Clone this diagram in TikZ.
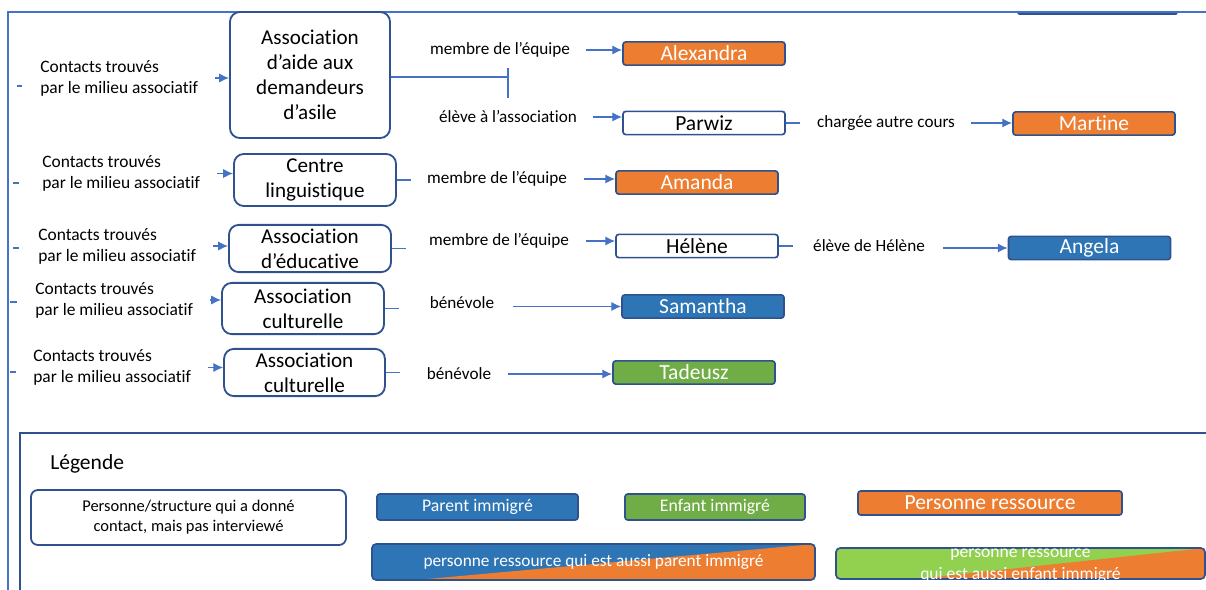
\documentclass[tikz,border=0pt]{standalone}
\usepackage{fontspec}
\setmainfont{Carlito}[Ligatures=NoCommon]
\usetikzlibrary{arrows,arrows.meta,shapes,positioning}
\definecolor{lienbleu}{HTML}{4472C4}
\definecolor{bordbleu}{HTML}{2F528F}
\definecolor{orangeres}{HTML}{ED7D31}
\definecolor{bleuparent}{HTML}{2E75B6}
\definecolor{vertenfant}{HTML}{70AD47}
\definecolor{vertclair}{HTML}{92D050}
\tikzset{
  struct/.style={draw=bordbleu, line width=1.3pt, fill=white, rounded corners=7pt,
    align=center, inner sep=0pt, font=\fontsize{15}{17.8}\selectfont},
  pers/.style={draw=bordbleu, line width=1.2pt, rounded corners=2pt, inner sep=0pt,
    minimum width=4.05cm, minimum height=0.58cm, text=white, font=\fontsize{15.3}{16}\selectfont},
  contact/.style={anchor=west, align=left, inner sep=0pt, font=\fontsize{12.4}{14.9}\selectfont},
  texte/.style={align=center, inner sep=0pt, font=\fontsize{12.2}{14.6}\selectfont},
  lien/.style={draw=lienbleu, line width=0.9pt},
  fleche/.style={lien, ->},
  cadre/.style={draw=lienbleu, line width=1.4pt},
  duo/.style 2 args={draw=bordbleu, line width=1.2pt, rounded corners=3pt, inner sep=0pt, fill=#1,
    path picture={\fill[orangeres] ([xshift=#2]path picture bounding box.south west)
      -- (path picture bounding box.north east) -- (path picture bounding box.south east) -- cycle;}}
}
\begin{document}
\begin{tikzpicture}[x=0.025cm,y=-0.025cm,>={Latex[length=7pt,width=6.5pt]}]
 	\useasboundingbox (0,0) rectangle (1206,590);
 	\draw[bordbleu, line width=2.2pt, line cap=round] (1019,13.5) -- (1176,13.5);
 	\draw[cadre] (8,590) -- (8,12) -- (1206,12);
 	% structures
 	\node[struct, minimum width=4cm, minimum height=3.15cm] (a1) at (310,75) {Association\\d'aide aux\\demandeurs\\d'asile};
 	\node[struct, minimum width=4.05cm, minimum height=1.3cm] (a2) at (315,180) {Centre\\linguistique};
 	\node[struct, minimum width=4.05cm, minimum height=1.18cm] (a3) at (310,248.5) {Association\\d'éducative};
 	\node[struct, minimum width=4.05cm, minimum height=1.28cm] (a4) at (303,308.5) {Association\\culturelle};
 	\node[struct, minimum width=4.02cm, minimum height=1.18cm] (a5) at (304.5,372.5) {Association\\culturelle};
 	% contacts
 	\node[contact] (c1) at (40,78) {Contacts trouvés\\par le milieu associatif};
 	\node[contact] (c2) at (42,173.5) {Contacts trouvés\\par le milieu associatif};
 	\node[contact] (c3) at (38,246) {Contacts trouvés\\par le milieu associatif};
 	\node[contact] (c4) at (35,300) {Contacts trouvés\\par le milieu associatif};
 	\node[contact] (c5) at (33,367.5) {Contacts trouvés\\par le milieu associatif};
 	% personnes
 	\node[pers, fill=orangeres] (alex) at (704,53.5) {Alexandra};
 	\node[pers, fill=white, text=black] (parwiz) at (704,123) {Parwiz};
 	\node[pers, fill=orangeres] (martine) at (1094,123.5) {Martine};
 	\node[pers, fill=orangeres] (amanda) at (697,182.5) {Amanda};
 	\node[pers, fill=white, text=black] (helene) at (697,246) {Hélène};
 	\node[pers, fill=bleuparent] (angela) at (1089.5,248) {Angela};
 	\node[pers, fill=bleuparent] (samantha) at (703,306.5) {Samantha};
 	\node[pers, fill=vertenfant] (tadeusz) at (694,372.5) {Tadeusz};
 	% liens
 	\node[texte] (m1) at (500,50) {membre de l'équipe};
 	\node[texte] (e1) at (508,117) {élève à l'association};
 	\node[texte] (ch) at (886,123) {chargée autre cours};
 	\node[texte] (m2) at (497,179) {membre de l'équipe};
 	\node[texte] (m3) at (499,241) {membre de l'équipe};
 	\node[texte] (el) at (869,246) {élève de Hélène};
 	\node[texte] (b4) at (462,303) {bénévole};
 	\node[texte] (b5) at (459,374) {bénévole};
 	\coordinate (t1) at (508,77);
 	\draw[lien] (a1.east |- t1) -- (t1);
 	\draw[lien] (t1) ++(0,-9) -- ++(0,30);
 	\draw[lien] (17,86) -- (22,86);
 	\draw[lien] (13,183) -- (19,183);
 	\draw[lien] (13,248) -- (19,248);
 	\draw[lien] (10,302) -- (17,302);
 	\draw[lien] (10,372) -- (16,372);
 	\foreach \i in {1,...,5}
 	 	\draw[fleche, shorten <=12pt] (c\i.east) -- (c\i.east -| a\i.west);
 	\foreach \a in {a2,a3,a4,a5,parwiz,helene}
 	 	\draw[lien] (\a.east) -- ++(14,0);
 	\draw[fleche, shorten <=11pt] (m1.east) -- (m1.east -| alex.west);
 	\draw[fleche, shorten <=11pt] (e1.east) -- (e1.east -| parwiz.west);
 	\draw[fleche, shorten <=11pt] (ch.east) -- (ch.east -| martine.west);
 	\draw[fleche, shorten <=12pt] (m2.east) -- (m2.east -| amanda.west);
 	\draw[fleche, shorten <=12pt] (m3.east) -- (m3.east -| helene.west);
 	\draw[fleche, shorten <=13pt] (angela.west -| el.east) -- (angela.west);
 	\draw[fleche, shorten <=13pt] (samantha.west -| b4.east) -- (samantha.west);
 	\draw[fleche, shorten <=12pt] (b5.east) -- (b5.east -| tadeusz.west);
 	% legende
 	\draw[cadre, draw=bordbleu] (20,590) -- (20,433) -- (1206,433);
 	\node[anchor=west, inner sep=0pt, font=\fontsize{15.3}{16}\selectfont] (leg) at (50,464) {Légende};
 	\node[struct, rounded corners=5pt, minimum width=7.875cm, minimum height=1.375cm, font=\fontsize{11.7}{14.2}\selectfont] (lg1) at (188.5,517.5) {Personne/structure qui a donné\\contact, mais pas interviewé};
 	\node[pers, fill=bleuparent, minimum width=5.025cm, minimum height=0.65cm, font=\fontsize{12.6}{14}\selectfont] (lg2) at (477.5,507) {Parent immigré};
 	\node[pers, fill=vertenfant, minimum width=4.5cm, minimum height=0.65cm, font=\fontsize{12.6}{14}\selectfont] (lg3) at (715,507) {Enfant immigré};
 	\node[pers, fill=orangeres, minimum width=6.6cm, minimum height=0.6cm, font=\fontsize{15.3}{16}\selectfont] (lg4) at (990,503) {Personne ressource};
 	\node[duo={bleuparent}{1.1cm}, minimum width=11.075cm, minimum height=0.9cm, text=white, font=\fontsize{12.3}{14}\selectfont] (lg5) at (593.5,562) {personne ressource qui est aussi parent immigré};
 	\node[duo={vertclair}{2cm}, minimum width=9.225cm, minimum height=0.775cm] (lg6) at (1020.5,563.5) {};
 	\begin{scope}
 	 	\clip (lg6.south west) rectangle (lg6.north east);
 	 	\node[texte, text=white, font=\fontsize{12.5}{15.6}\selectfont] (lg6t) at (1020.5,566) {personne ressource\\qui est aussi enfant immigré};
 	\end{scope}
\end{tikzpicture}
\end{document}
